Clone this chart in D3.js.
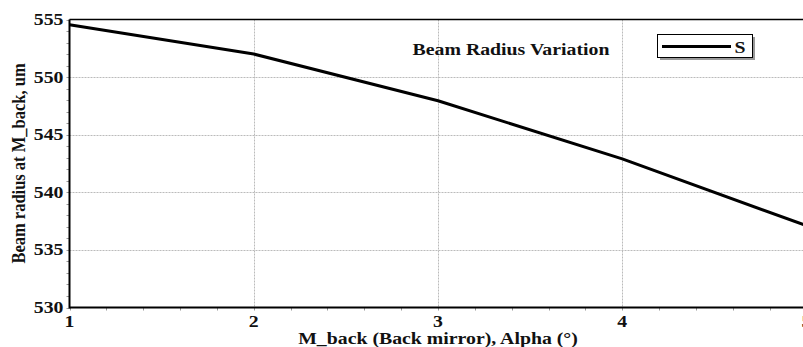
<!DOCTYPE html>
<html><head><meta charset="utf-8">
<script src="https://cdn.jsdelivr.net/npm/d3@7"></script>
<style>
html,body{margin:0;padding:0;background:#fff;overflow:hidden;}
</style></head>
<body>
<script>
const alpha = [1, 2, 3, 4, 5];
const radiusS = [554.55, 552.0, 547.95, 542.9, 537.1];
const xTicks = [1, 2, 3, 4, 5];
const yTicks = [530, 535, 540, 545, 550, 555];
const seriesName = "S";
const chartTitle = "Beam Radius Variation";
const xLabel = "M_back (Back mirror), Alpha (°)";
const yLabel = "Beam radius at M_back, um";

const W = 803, H = 347;
const FS = 16.5, SX = 1.2;
const FONT = "'Liberation Serif','Times New Roman',serif";
const m = {left: 69.5, top: 19.5, right: 806.5, bottom: 307.5};
const svg = d3.select("body").append("svg").attr("width", W).attr("height", H);

function label(g, tx, ty, str, anchor, rot) {
  const t = g.append("g").attr("transform", `translate(${tx},${ty}) scale(${SX},1)` + (rot ? " rotate(-90)" : ""))
    .append("text").attr("text-anchor", anchor || "start")
    .attr("font-family", FONT).attr("font-weight", 700).attr("font-size", FS).attr("fill", "#111")
    .text(str);
  return t;
}

const x = d3.scaleLinear().domain([1, 5]).range([m.left, m.right]);
const y = d3.scaleLinear().domain([530, 555]).range([m.bottom, m.top]);

// grid
const grid = svg.append("g").attr("stroke", "#bbb").attr("stroke-width", 1).attr("stroke-dasharray", "2,1");
grid.selectAll("line.gx").data(xTicks.filter(d => d > 1 && d < 5)).join("line")
  .attr("x1", d => Math.round(x(d)) + 0.5).attr("x2", d => Math.round(x(d)) + 0.5)
  .attr("y1", m.top).attr("y2", m.bottom);
grid.selectAll("line.gy").data(yTicks.filter(d => d > 530 && d < 555)).join("line")
  .attr("y1", d => Math.round(y(d)) + 0.5).attr("y2", d => Math.round(y(d)) + 0.5)
  .attr("x1", m.left).attr("x2", m.right);

// minor ticks
const minorX = d3.range(1, 5.001, 0.2);
svg.append("g").selectAll("line").data(minorX).join("line")
  .attr("x1", d => Math.round(x(d)) + 0.5).attr("x2", d => Math.round(x(d)) + 0.5)
  .attr("y1", m.bottom).attr("y2", m.bottom + 3)
  .attr("stroke", "#999").attr("stroke-width", 1);
const minorY = d3.range(530, 555.001, 1);
svg.append("g").selectAll("line").data(minorY).join("line")
  .attr("y1", d => Math.round(y(d)) + 0.5).attr("y2", d => Math.round(y(d)) + 0.5)
  .attr("x1", m.left - 3).attr("x2", m.left)
  .attr("stroke", "#999").attr("stroke-width", 1);

// frame
svg.append("line").attr("x1", m.left).attr("x2", m.right).attr("y1", m.top).attr("y2", m.top)
  .attr("stroke", "#000").attr("stroke-width", 1.3);
svg.append("line").attr("x1", m.left).attr("x2", m.right).attr("y1", m.bottom).attr("y2", m.bottom)
  .attr("stroke", "#000").attr("stroke-width", 2);
svg.append("line").attr("x1", m.left).attr("x2", m.left).attr("y1", m.top).attr("y2", m.bottom + 1)
  .attr("stroke", "#000").attr("stroke-width", 2);

// tick labels
const tl = svg.append("g");
xTicks.forEach(d => label(tl, x(d), 327, d, "middle"));
yTicks.forEach(d => label(tl, 63.5, y(d) + 5.5, d, "end"));

// axis labels
label(svg, (m.left + m.right) / 2, 343.5, xLabel, "middle");
label(svg, 25, (m.top + m.bottom) / 2, yLabel, "middle", true);

// data line
const line = d3.line().x((d, i) => x(alpha[i])).y(d => y(d));
svg.append("path").datum(radiusS).attr("d", line)
  .attr("fill", "none").attr("stroke", "#000").attr("stroke-width", 3).attr("stroke-linejoin", "round");

// title
label(svg, 511, 55, chartTitle, "middle");

// legend
const lg = svg.append("g");
lg.append("rect").attr("x", 660).attr("y", 37).attr("width", 95).attr("height", 23).attr("fill", "#999");
lg.append("rect").attr("x", 657.5).attr("y", 34.5).attr("width", 95).attr("height", 23)
  .attr("fill", "#fff").attr("stroke", "#000").attr("stroke-width", 1);
lg.append("line").attr("x1", 662).attr("x2", 731).attr("y1", 46.5).attr("y2", 46.5)
  .attr("stroke", "#000").attr("stroke-width", 3);
label(lg, 734.5, 52.5, seriesName, "start");
</script>
</body></html>
